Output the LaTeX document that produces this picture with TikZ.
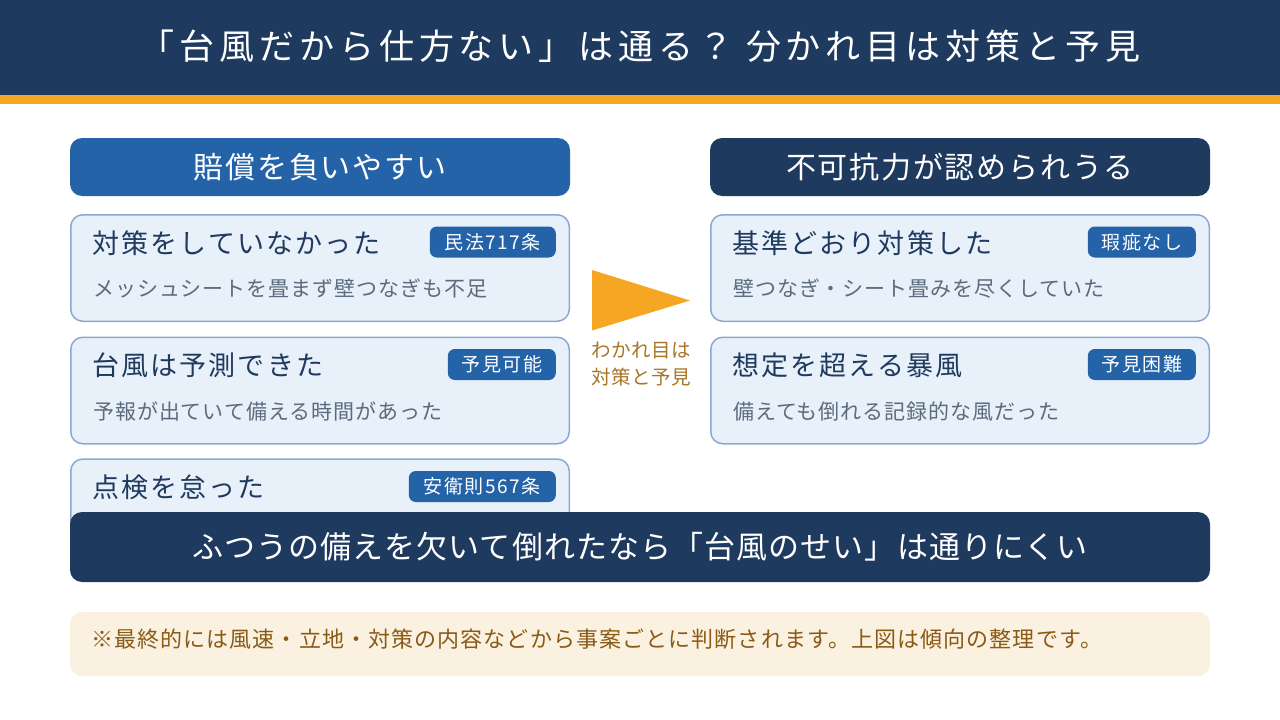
\documentclass[tikz,border=0pt]{standalone}
\usepackage{fontspec}
\setmainfont{Noto Sans CJK JP}
\usepackage{xcolor}
\usepackage{tikz}
\tikzset{head/.style={rounded corners=12pt,minimum width=500pt,minimum height=58pt,inner sep=0pt,text=white,font=\fontsize{30}{36}\selectfont\addfontfeatures{LetterSpace=6}},
card/.style={draw=cardline,line width=1.5pt,fill=cardfill,rounded corners=12pt,minimum width=498.5pt,minimum height=106.5pt,inner sep=0pt},
cardtitle/.style={anchor=base west,inner sep=0pt,text=navymain,font=\fontsize{27}{32}\selectfont\addfontfeatures{LetterSpace=8}},
cardsub/.style={anchor=base west,inner sep=0pt,text=graymuted,font=\fontsize{21}{25}\selectfont\addfontfeatures{LetterSpace=4.5}},
badge/.style={anchor=east,fill=blueacc,text=white,rounded corners=7pt,minimum height=31pt,inner sep=0pt,font=\fontsize{19}{22}\selectfont\addfontfeatures{LetterSpace=8}}}
\definecolor{navymain}{HTML}{1F3A5F}
\definecolor{blueacc}{HTML}{2563A8}
\definecolor{orangeacc}{HTML}{F5A623}
\definecolor{cardfill}{HTML}{E8F0F9}
\definecolor{cardline}{HTML}{8AAAD4}
\definecolor{graymuted}{HTML}{5C6B7E}
\definecolor{brownacc}{HTML}{A87526}
\definecolor{notefill}{HTML}{FAF1E0}
\definecolor{notetext}{HTML}{8A5A16}

\begin{document}
\begin{tikzpicture}[x=1pt,y=-1pt]
\useasboundingbox (0,0) rectangle (1280,720);
\fill[navymain] (0,0) rectangle (1280,95);
\fill[orangeacc] (0,95) rectangle (1280,104);
\node[text=white,font=\fontsize{35}{42}\selectfont\addfontfeatures{LetterSpace=14}] (title) at (640,46) {「台風だから仕方ない」は通る？ 分かれ目は対策と予見};
\node[head,fill=blueacc] (headL) at (320,167) {賠償を負いやすい};
\node[head,fill=navymain] (headR) at (960,167) {不可抗力が認められうる};
% cards
\foreach \n/\cx/\cy/\ttl/\sub/\bdg/\bw in {
 L1/320/268/対策をしていなかった/メッシュシートを畳まず壁つなぎも不足/民法717条/126,
 L2/320/390.5/台風は予測できた/予報が出ていて備える時間があった/予見可能/108,
 R1/960/268/基準どおり対策した/壁つなぎ・シート畳みを尽くしていた/瑕疵なし/108,
 R2/960/390.5/想定を超える暴風/備えても倒れる記録的な風だった/予見困難/108} {
 \node[card] (card\n) at (\cx,\cy) {};
 \node[cardtitle] (title\n) at (\cx-228,\cy-15) {\ttl};
 \node[cardsub] (sub\n) at (\cx-227,\cy+28.5) {\sub};
 \node[badge,minimum width=\bw pt] (badge\n) at (\cx+236,\cy-26) {\bdg};
}
\node[card,minimum height=81pt] (cardL3) at (320,499.5) {};
\node[cardtitle] (titleL3) at (92,497.5) {点検を怠った};
\node[badge,minimum width=147pt] (badgeL3) at (556,486.5) {安衛則567条};
% split mark
\fill[orangeacc] (592,270) -- (592,330.5) -- (690,300.5) -- cycle;
\node[text=brownacc,font=\fontsize{19.5}{27}\selectfont\addfontfeatures{LetterSpace=2}, align=center] (split) at (641,364) {わかれ目は\\対策と予見};
\node[fill=navymain,rounded corners=12pt,minimum width=1140pt,minimum height=70pt,inner sep=0pt,text=white,font=\fontsize{31}{36}\selectfont\addfontfeatures{LetterSpace=3.5}] (bar) at (640,547) {ふつうの備えを欠いて倒れたなら「台風のせい」は通りにくい};
\node[fill=notefill,rounded corners=12pt,minimum width=1140pt,minimum height=64pt,inner sep=0pt] (note) at (640,644) {};
\node[anchor=west,inner sep=0pt,text=notetext,font=\fontsize{22}{26}\selectfont\addfontfeatures{LetterSpace=5}] (notetxt) at (91,639) {※最終的には風速・立地・対策の内容などから事案ごとに判断されます。上図は傾向の整理です。};
\end{tikzpicture}
\end{document}
